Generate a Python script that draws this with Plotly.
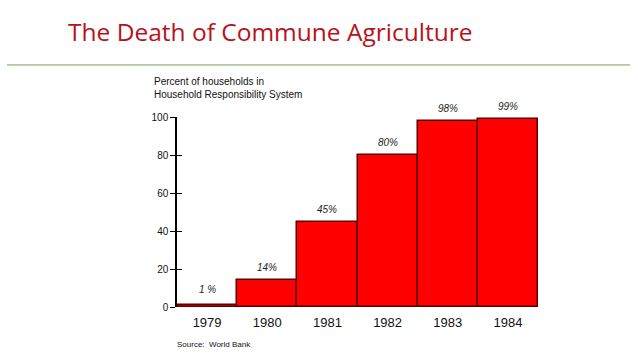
import plotly.graph_objects as go

years = ["1979", "1980", "1981", "1982", "1983", "1984"]
percent = [1, 14, 45, 80, 98, 99]
labels = ["1 %", "14%", "45%", "80%", "98%", "99%"]
y_ticks = [0, 20, 40, 60, 80, 100]

fig = go.Figure()
fig.add_trace(go.Bar(
    x=years, y=percent, width=1.0,
    marker=dict(color="#FF0000", line=dict(color="#5A0000", width=1.5)),
    hoverinfo="skip", showlegend=False,
))
fig.add_trace(go.Scatter(x=years, y=percent, yaxis="y2", mode="markers",
                         marker=dict(opacity=0), hoverinfo="skip", showlegend=False))

for i, (v, t) in enumerate(zip(percent, labels)):
    fig.add_annotation(x=i, y=v, text=t, showarrow=False, yanchor="bottom",
                       yshift=5 if v > 5 else 8,
                       font=dict(family="Liberation Sans", size=10, color="#222222", style="italic"))

fig.add_annotation(xref="paper", yref="paper", x=-0.07, y=1.08, xanchor="left", yanchor="bottom",
                   text="Percent of households in<br>Household Responsibility System",
                   align="left", showarrow=False,
                   font=dict(family="Liberation Sans", size=10, color="#111111"))
fig.add_annotation(xref="paper", yref="paper", x=-0.005, y=-0.195, xanchor="left", yanchor="middle",
                   text="Source:  World Bank", showarrow=False,
                   font=dict(family="Liberation Sans", size=8, color="#111111"))

fig.add_annotation(xref="paper", yref="paper", x=-0.308, y=1.448, xanchor="left", yanchor="middle",
                   text="The Death of Commune Agriculture", showarrow=False,
                   font=dict(family="Open Sans", size=24.5, color="#B8121C"))
fig.add_shape(type="line", xref="paper", yref="paper", x0=-0.471, x1=1.255, y0=1.274, y1=1.274,
              line=dict(color="#7AA05A", width=1))

fig.update_layout(
    width=638, height=359,
    margin=dict(l=177, r=100, t=117, b=52),
    paper_bgcolor="white", plot_bgcolor="white",
    bargap=0,
    xaxis=dict(type="category", showline=False, showgrid=False, ticks="",
               tickfont=dict(family="Liberation Sans", size=13, color="#111111"),
               ticklabelstandoff=6, range=[-0.5, 5.5]),
    yaxis=dict(range=[0, 100], tickvals=y_ticks, showgrid=False, zeroline=False,
               showline=True, linecolor="black", linewidth=1.5,
               ticks="outside", ticklen=5, tickcolor="black", tickwidth=1,
               tickfont=dict(family="Liberation Sans", size=10, color="#111111")),
    yaxis2=dict(range=[0, 100], tickvals=y_ticks, overlaying="y", side="left",
                showgrid=False, zeroline=False, showline=False,
                ticks="inside", ticklen=5, tickcolor="black", tickwidth=1,
                showticklabels=False),
)

fig.write_html("out.html", config={"displayModeBar": False},
               post_script="document.body.style.margin='0px';")
